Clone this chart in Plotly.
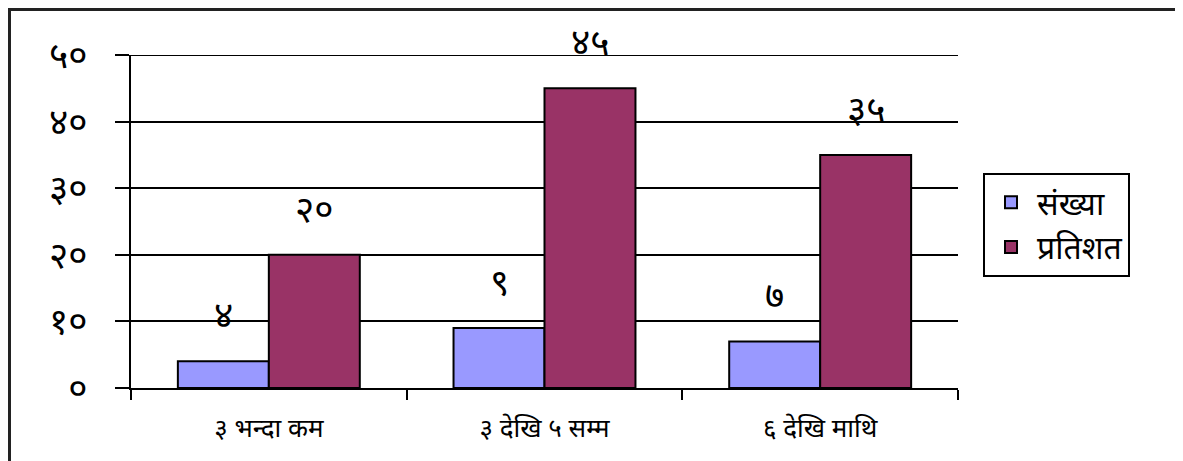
import plotly.graph_objects as go

categories = ["३ भन्दा कम", "३ देखि ५ सम्म", "६ देखि माथि"]
series_names = ["संख्या", "प्रतिशत"]
count_values = [4, 9, 7]
percent_values = [20, 45, 35]
count_labels = ["४", "९", "७"]
percent_labels = ["२०", "४५", "३५"]
y_tick_values = [0, 10, 20, 30, 40, 50]
y_tick_labels = ["०", "१०", "२०", "३०", "४०", "५०"]

colors = ["#9999FF", "#993366"]
FONT = "Noto Sans Devanagari, Lohit Devanagari, Mangal, Noto Sans, sans-serif"

fig = go.Figure()
fig.add_trace(go.Bar(x=categories, y=count_values, name=series_names[0],
                     marker=dict(color=colors[0], line=dict(color="black", width=2))))
fig.add_trace(go.Bar(x=categories, y=percent_values, name=series_names[1],
                     marker=dict(color=colors[1], line=dict(color="black", width=2))))

annotations = []
for vals, labs, shift in [(count_values, count_labels, -45.5), (percent_values, percent_labels, 45.5)]:
    for c, v, t in zip(categories, vals, labs):
        annotations.append(dict(x=c, y=v, xref="x", yref="y", text=t, showarrow=False,
                                xshift=shift, yshift=42, yanchor="middle",
                                font=dict(size=37, color="black", family=FONT)))

# page body has 8px margin; compensate so the plot lands where the reference has it
OFF = 8
W, H = 1183 - OFF, 461 - OFF
L, R, T, B = 131 - OFF, W - (958 - OFF), 55 - OFF, H - (388 - OFF)
pw, ph = W - L - R, H - T - B

def px_to_paper_x(px):
    return (px - OFF - L) / pw

def px_to_paper_y(py):
    return (H - B - (py - OFF)) / ph

shapes = [
    # outer chart-area frame
    dict(type="rect", xref="paper", yref="paper",
         x0=px_to_paper_x(9.5), x1=px_to_paper_x(1180.5),
         y0=px_to_paper_y(480), y1=px_to_paper_y(9.5),
         line=dict(color="#222", width=3), fillcolor="rgba(0,0,0,0)", layer="below"),
    # top gridline at the axis maximum
    dict(type="line", xref="paper", yref="y", x0=0, x1=1,
         y0=y_tick_values[-1], y1=y_tick_values[-1],
         line=dict(color="black", width=2), layer="below"),
]

fig.update_layout(
    width=W, height=H,
    margin=dict(l=L, r=R, t=T, b=B, pad=0, autoexpand=False),
    paper_bgcolor="white", plot_bgcolor="white",
    barmode="group", bargap=0.34, bargroupgap=0,
    font=dict(family=FONT, color="black"),
    showlegend=True,
    legend=dict(x=px_to_paper_x(983), y=px_to_paper_y(173), xanchor="left", yanchor="top",
                bordercolor="black", borderwidth=2, bgcolor="white",
                font=dict(size=32, family=FONT, color="black"),
                tracegroupgap=0, itemwidth=42),
    annotations=annotations,
    shapes=shapes,
)
fig.update_xaxes(showline=True, linecolor="black", linewidth=2, showgrid=False,
                 ticks="outside", ticklen=10, tickwidth=2, tickcolor="black",
                 tickson="boundaries", tickfont=dict(size=26, family=FONT, color="black"),
                 ticklabelstandoff=16, automargin=False)
fig.update_yaxes(range=[0, 50], tickvals=y_tick_values, ticktext=y_tick_labels,
                 showline=True, linecolor="black", linewidth=2,
                 showgrid=True, gridcolor="black", gridwidth=2,
                 ticks="outside", ticklen=14, tickwidth=2, tickcolor="black",
                 tickfont=dict(size=37, family=FONT, color="black"),
                 ticklabelstandoff=20, zeroline=False, automargin=False)

fig.write_html("out.html")
